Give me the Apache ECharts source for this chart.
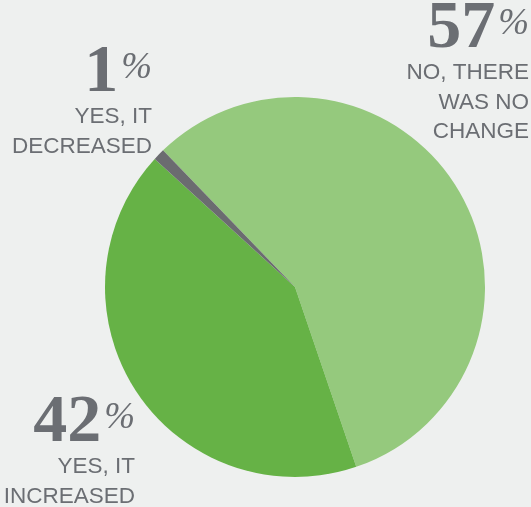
<!DOCTYPE html>
<html>
<head>
<meta charset="utf-8">
<style>
  html, body { margin: 0; padding: 0; background: #eef0ef; }
  #chart { width: 531px; height: 507px; }
</style>
<script src="https://cdn.jsdelivr.net/npm/echarts@6/dist/echarts.min.js"></script>
</head>
<body>
<div id="chart"></div>
<script>
// Answer shares (percent)
const answers = ['NO, THERE\nWAS NO\nCHANGE', 'YES, IT\nINCREASED', 'YES, IT\nDECREASED'];
const shares = [57, 42, 1];
const sliceColors = ['#95c97d', '#66b246', '#6b6c70'];

// Where each answer's caption block sits (top-right corner of the block)
const captionAnchors = [
  { x: 529, y: 1 },
  { x: 135, y: 395 },
  { x: 152, y: 45 }
];

const textGray = '#6b6e73';

const chart = echarts.init(document.getElementById('chart'));
chart.setOption({
  backgroundColor: '#eef0ef',
  animation: false,
  series: [{
    type: 'pie',
    center: [295, 287],
    radius: 190,
    startAngle: 134,
    clockwise: true,
    silent: true,
    avoidLabelOverlap: false,
    data: shares.map((v, i) => ({
      value: v,
      name: answers[i],
      itemStyle: { color: sliceColors[i] }
    })),
    itemStyle: { borderWidth: 0 },
    labelLine: { show: false },
    label: {
      show: true,
      position: 'outside',
      alignTo: 'none',
      overflow: 'none',
      bleedMargin: 0,
      align: 'right',
      color: textGray,
      formatter: p => {
        const lines = p.name.split('\n').map(t => '{txt|' + t + '}').join('\n');
        return '{num|' + p.value + '}{pct|%}\n' + lines;
      },
      rich: {
        num: {
          fontFamily: 'Liberation Serif',
          fontWeight: 'bold',
          fontSize: 68,
          lineHeight: 57.5,
          color: textGray,
          align: 'right'
        },
        pct: {
          fontFamily: 'Liberation Serif',
          fontStyle: 'italic',
          fontSize: 37,
          lineHeight: 40,
          verticalAlign: 'middle',
          color: textGray,
          align: 'right',
          padding: [0, 0, 11, 3]
        },
        txt: {
          fontFamily: 'Liberation Sans',
          fontSize: 22.5,
          lineHeight: 29.5,
          color: textGray,
          align: 'right'
        }
      }
    },
    labelLayout: params => {
      const a = captionAnchors[params.dataIndex];
      return { x: a.x, y: a.y, align: 'right', verticalAlign: 'top', hideOverlap: false };
    }
  }]
});
</script>
</body>
</html>
